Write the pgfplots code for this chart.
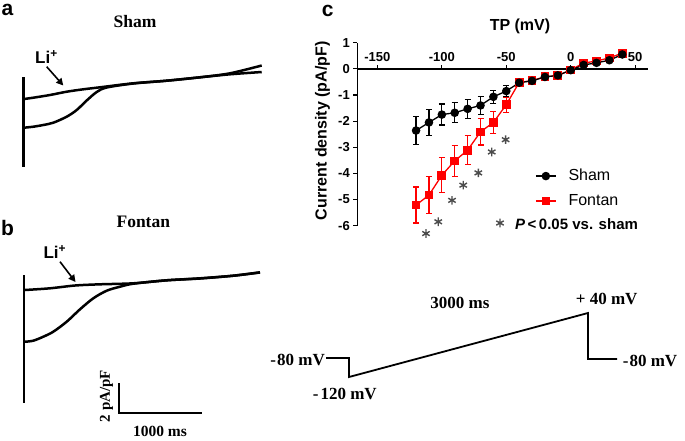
\documentclass[border=0pt]{standalone}
\usepackage{fontspec}
\setmainfont{Liberation Sans}
\newfontfamily\tnr{Liberation Serif}
\usepackage{pgfplots}
\pgfplotsset{compat=1.18}
\usetikzlibrary{arrows.meta}
\newcommand\fs[1]{\fontsize{#1}{#1}\selectfont}

\begin{document}
\begin{tikzpicture}
\useasboundingbox (0,0) rectangle (685pt,440pt);
% ---------------- canvas for panels a, b and the protocol (pixel coordinates) ----------------
\begin{axis}[at={(0pt,0pt)}, anchor=south west, width=685pt, height=440pt, scale only axis,
  xmin=0, xmax=685, ymin=0, ymax=440, y dir=reverse, hide axis, clip=false]
% panel a
\addplot[black, line width=2.6pt] coordinates {(23.3,77) (23.3,167)};
\addplot[black, line width=2.5pt, smooth] coordinates {(24,99) (33.3,97.7) (50,95) (66.7,91.7) (83.3,89.3) (100,87.3) (133.3,83.3) (166.7,80.7) (200,77.3) (230,73.3) (261.7,65.5)};
\addplot[black, line width=2.5pt, smooth] coordinates {(24,127.7) (33.3,126.7) (43.3,125) (53.3,122.7) (66.7,116.7) (76.7,110) (86.7,100.5) (96.7,92) (106.7,87.5) (133.3,83.5) (166.7,80.7) (200,77.3) (230,74.3) (261.7,72)};
% panel b
\addplot[black, line width=2.8pt] coordinates {(24,275) (24,403)};
\addplot[black, line width=2.5pt, smooth] coordinates {(25,290) (50,288.3) (75,285.5) (100,284.3) (133.3,283.3) (166.7,280.3) (200,278.3) (233.3,275.7) (260,272.3)};
\addplot[black, line width=2.5pt, smooth] coordinates {(25,341.7) (33.3,340.7) (43.3,336.7) (53.3,331.7) (66.7,321.7) (80,309.3) (93.3,298.3) (106.7,290.7) (120,286.7) (133.3,283.7) (166.7,280.3) (200,278.5) (233.3,275.7) (260,272.5)};
% scale bar
\addplot[black, line width=1.6pt] coordinates {(119,383) (119,413) (202,413)};
% protocol
\addplot[black, line width=1.8pt] coordinates {(326,358) (349,358) (349,377) (588,313) (588,359) (617,359)};
% legend asterisk of panel c
\addplot[only marks, mark=asterisk, mark size=4.3pt, black!70, mark options={line width=1.4pt}] coordinates {(500,223)};
% arrows
\draw[line width=1.6pt, -{Triangle[length=7pt,width=7pt]}] (axis cs:46.7,66.7) -- (axis cs:63.3,85.5);
\draw[line width=1.6pt, -{Triangle[length=7pt,width=7pt]}] (axis cs:60,261.7) -- (axis cs:75.5,282);
% texts
\node[anchor=base west, inner sep=0pt] at (axis cs:1.5,15.5) {\fs{21}\bfseries a};
\node[anchor=base west, inner sep=0pt] at (axis cs:1,235) {\fs{21}\bfseries b};
\node[anchor=base west, inner sep=0pt] at (axis cs:321.7,16) {\fs{21}\bfseries c};
\node[anchor=base, inner sep=0pt] at (axis cs:135,27.3) {\tnr\bfseries\fs{17.5}Sham};
\node[anchor=base, inner sep=0pt] at (axis cs:143.3,227.3) {\tnr\bfseries\fs{17.5}Fontan};
\node[anchor=base west, inner sep=0pt] at (axis cs:35,63.3) {\fs{17}\bfseries Li\textsuperscript{+}};
\node[anchor=base west, inner sep=0pt] at (axis cs:43.3,258.3) {\fs{17}\bfseries Li\textsuperscript{+}};
\node[rotate=90, inner sep=0pt] at (axis cs:106.5,396) {\tnr\bfseries\fs{15}2 pA/pF};
\node[anchor=base, inner sep=0pt] at (axis cs:160,436.7) {\tnr\bfseries\fs{15.5}1000 ms};
\node[anchor=base east, inner sep=0pt] at (axis cs:325,365.7) {\tnr\bfseries\fs{17}-\kern1pt80 mV};
\node[anchor=base west, inner sep=0pt] at (axis cs:622.7,366.5) {\tnr\bfseries\fs{17}-\kern1pt80 mV};
\node[anchor=base west, inner sep=0pt] at (axis cs:312.7,399.7) {\tnr\bfseries\fs{17}-\kern2pt120 mV};
\node[anchor=base, inner sep=0pt] at (axis cs:606.7,304) {\tnr\bfseries\fs{17}+ 40 mV};
\node[anchor=base, inner sep=0pt] at (axis cs:460,308) {\tnr\bfseries\fs{17}3000 ms};
\node[anchor=base west, inner sep=0pt] at (axis cs:515,229.5) {\fs{15}\bfseries\textit{P}\kern2.5pt<\kern2.5pt0.05 vs. sham};
\end{axis}
% ---------------- panel c ----------------
\begin{axis}[at={(357.3pt,214.3pt)}, anchor=south west, width=291pt, height=183pt, scale only axis,
  xmin=-165.6, xmax=60.2, ymin=-6, ymax=1,
  axis x line=middle, axis y line=left,
  axis line style={-, line width=1.3pt},
  every inner x axis line/.append style={-},
  every outer y axis line/.append style={-},
  xtick={-150,-100,-50,0,50}, ytick={-6,-5,-4,-3,-2,-1,0,1},
  tick style={black, line width=1.2pt}, major tick length=4pt,
  xtick align=inside, ytick align=outside,
  ticklabel style={font=\fs{13}\bfseries},
  xticklabel style={anchor=south, yshift=4pt},
  /pgf/number format/assume math mode=true,
  title={TP (mV)}, title style={at={(rel axis cs:0.559,1.0585)}, anchor=center, font=\fs{16}\bfseries},
  ylabel={Current density (pA/pF)}, ylabel style={at={(rel axis cs:-0.1196,0.5186)}, anchor=center, font=\fs{16}\bfseries},
  clip=false,
  reverse legend,
  legend style={at={(axis cs:-27.7,-4.58)}, anchor=west, draw=none, fill=none, font=\fs{16},
    inner sep=0pt, row sep=9.5pt, column sep=12pt, nodes={inner sep=0pt, text height=12pt, text depth=3.5pt}},
  legend cell align=left,
  legend image code/.code={\draw[mark repeat=2, mark phase=2, #1] plot coordinates {(0pt,0pt) (10pt,0pt) (20pt,0pt)};},
  error bars/error bar style={line width=1.3pt},
  error bars/error mark options={rotate=90, mark size=3pt, line width=1.3pt},
]
\addplot[red, line width=1.3pt, mark=square*, mark size=3.7pt, mark options={solid},
  error bars/.cd, y dir=both, y explicit] coordinates {
  (-120,-5.21) +- (0,0.69)
  (-110,-4.83) +- (0,0.71)
  (-100,-4.07) +- (0,0.67)
  (-90,-3.52) +- (0,0.60)
  (-80,-3.11) +- (0,0.56)
  (-70,-2.41) +- (0,0.50)
  (-60,-2.05) +- (0,0.41)
  (-50,-1.37) +- (0,0.29)
  (-40,-0.52) +- (0,0.06)
  (-30,-0.45) +- (0,0.06)
  (-20,-0.30) +- (0,0.05)
  (-10,-0.26) +- (0,0.05)
  (0,-0.04) +- (0,0.04)
  (10,0.22) +- (0,0.04)
  (20,0.30) +- (0,0.04)
  (30,0.42) +- (0,0.05)
  (40,0.60) +- (0,0.06)
};
\addlegendentry{Fontan}
\addplot[black, line width=1.3pt, mark=*, mark size=3.6pt, mark options={solid},
  error bars/.cd, y dir=both, y explicit] coordinates {
  (-120,-2.36) +- (0,0.54)
  (-110,-2.05) +- (0,0.49)
  (-100,-1.75) +- (0,0.40)
  (-90,-1.68) +- (0,0.38)
  (-80,-1.53) +- (0,0.36)
  (-70,-1.40) +- (0,0.35)
  (-60,-1.07) +- (0,0.25)
  (-50,-0.85) +- (0,0.20)
  (-40,-0.53) +- (0,0.06)
  (-30,-0.46) +- (0,0.05)
  (-20,-0.31) +- (0,0.04)
  (-10,-0.25) +- (0,0.04)
  (0,-0.05) +- (0,0.03)
  (10,0.15) +- (0,0.03)
  (20,0.23) +- (0,0.03)
  (30,0.33) +- (0,0.04)
  (40,0.55) +- (0,0.05)
};
\addlegendentry{Sham}
\addplot[only marks, mark=asterisk, mark size=4.3pt, black!70, mark options={line width=1.4pt}, forget plot] coordinates {
  (-50.5,-2.71) (-61.3,-3.18) (-71.7,-3.98) (-83.4,-4.45) (-92.1,-5.03) (-102.8,-5.85) (-112.3,-6.30)
};
\end{axis}
\end{tikzpicture}
\end{document}
